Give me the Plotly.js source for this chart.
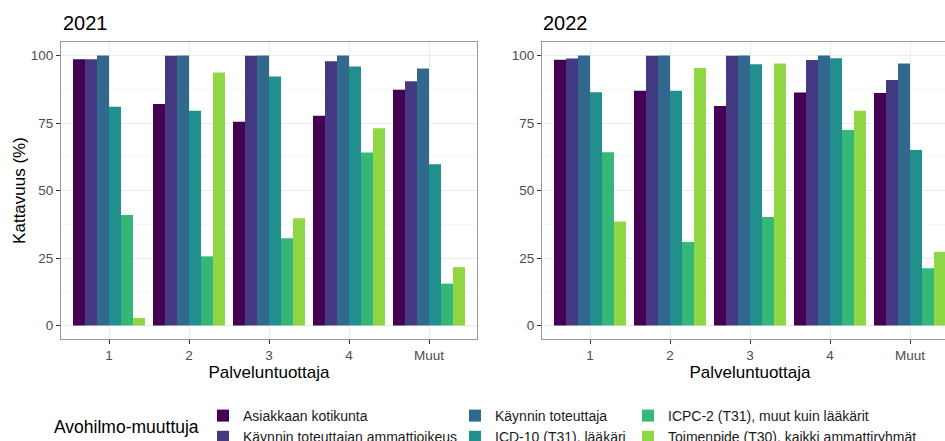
<!DOCTYPE html>
<html>
<head>
<meta charset="utf-8">
<script src="https://cdn.plot.ly/plotly-3.0.1.min.js"></script>
<style>
html, body { margin: 0; padding: 0; overflow: hidden; background: #fff; }
#chart { width: 960px; height: 450px; }
</style>
</head>
<body>
<div id="chart"></div>
<script>
// ---- Data ----
const categories = ['1', '2', '3', '4', 'Muut'];
const panelTitles = ['2021', '2022'];
const seriesNames = [
  'Asiakkaan kotikunta',
  'Käynnin toteuttajan ammattioikeus',
  'Käynnin toteuttaja',
  'ICD-10 (T31), lääkäri',
  'ICPC-2 (T31), muut kuin lääkärit',
  'Toimenpide (T30), kaikki ammattiryhmät'
];

// 2021
const kotikunta2021      = [98.6, 82.0, 75.5, 77.7, 87.3];
const ammattioikeus2021  = [98.6, 99.9, 99.9, 97.9, 90.5];
const toteuttaja2021     = [100, 100, 100, 100, 95.2];
const icd10_2021         = [81.0, 79.5, 92.2, 95.9, 59.7];
const icpc2_2021         = [40.9, 25.6, 32.3, 64.1, 15.5];
const toimenpide2021     = [2.8, 93.7, 39.7, 73.1, 21.6];

// 2022
const kotikunta2022      = [98.4, 86.9, 81.3, 86.3, 86.1];
const ammattioikeus2022  = [98.9, 99.9, 99.9, 98.3, 90.9];
const toteuttaja2022     = [100, 100, 100, 100, 97.0];
const icd10_2022         = [86.4, 86.9, 96.8, 99.0, 65.0];
const icpc2_2022         = [64.2, 30.9, 40.2, 72.4, 21.2];
const toimenpide2022     = [38.5, 95.4, 97.0, 79.5, 27.3];

const colors = ['#440154', '#443A83', '#31688E', '#21908C', '#35B779', '#8FD744'];

// ---- Layout geometry (pixels) ----
const W = 960, H = 450;
const L = 61, R = 958, T = 42, B = 339;
const pw = R - L, ph = B - T;
const px2x = p => (p - L) / pw;
const py2y = p => (B - p) / ph;

const FONT = 'Liberation Sans, Arial, Helvetica, sans-serif';

const data2021 = [kotikunta2021, ammattioikeus2021, toteuttaja2021, icd10_2021, icpc2_2021, toimenpide2021];
const data2022 = [kotikunta2022, ammattioikeus2022, toteuttaja2022, icd10_2022, icpc2_2022, toimenpide2022];
const legendIds = ['legend', 'legend', 'legend2', 'legend2', 'legend3', 'legend3'];

const traces = [];
[data2021, data2022].forEach((set, pi) => {
  set.forEach((vals, i) => {
    traces.push({
      type: 'bar',
      x: categories,
      y: vals,
      name: seriesNames[i],
      marker: { color: colors[i], line: { width: 0 } },
      xaxis: pi === 0 ? 'x' : 'x2',
      yaxis: pi === 0 ? 'y' : 'y2',
      legend: legendIds[i],
      showlegend: pi === 0,
      hoverinfo: 'x+y+name'
    });
  });
});

function xAxis(domain, anchor) {
  return {
    domain: domain, anchor: anchor,
    type: 'category', categoryorder: 'array', categoryarray: categories,
    range: [-0.6, 4.6],
    showgrid: true, gridcolor: '#ebebeb', gridwidth: 1,
    showline: true, linecolor: '#999999', linewidth: 1, mirror: true,
    ticks: 'outside', ticklen: 4, tickwidth: 1, tickcolor: '#333333',
    tickfont: { family: FONT, size: 13.5, color: '#4d4d4d' },
    title: { text: 'Palveluntuottaja', font: { family: FONT, size: 17, color: '#000' }, standoff: 2 },
    zeroline: false, fixedrange: true
  };
}
function yAxis(anchor, withTitle) {
  const ax = {
    anchor: anchor, domain: [0, 1],
    range: [-5, 105],
    tickmode: 'linear', tick0: 0, dtick: 25,
    showgrid: true, gridcolor: '#ebebeb', gridwidth: 1,
    minor: { tick0: 0, dtick: 12.5, showgrid: true, gridcolor: '#f2f2f2', gridwidth: 0.6 },
    showline: true, linecolor: '#999999', linewidth: 1, mirror: true,
    ticks: 'outside', ticklen: 4, tickwidth: 1, tickcolor: '#333333',
    tickfont: { family: FONT, size: 13.5, color: '#4d4d4d' },
    zeroline: false, fixedrange: true
  };
  if (withTitle) ax.title = { text: 'Kattavuus (%)', font: { family: FONT, size: 17, color: '#000' }, standoff: 0 };
  return ax;
}

const legendBase = {
  xanchor: 'left', yanchor: 'top',
  orientation: 'v',
  bgcolor: 'rgba(0,0,0,0)', borderwidth: 0,
  font: { family: FONT, size: 14, color: '#1a1a1a' },
  tracegroupgap: 0, traceorder: 'normal'
};
const legTop = py2y(400);

const layout = {
  width: W, height: H, autosize: false,
  margin: { l: L, r: W - R, t: T, b: H - B, pad: 0, autoexpand: false },
  paper_bgcolor: '#ffffff', plot_bgcolor: '#ffffff',
  font: { family: FONT },
  barmode: 'group', bargap: 0.1, bargroupgap: 0,
  xaxis: xAxis([0, px2x(477)], 'y'),
  yaxis: yAxis('x', true),
  xaxis2: xAxis([px2x(542), 1], 'y2'),
  yaxis2: yAxis('x2', false),
  legend: Object.assign({}, legendBase, { x: px2x(203), y: legTop }),
  legend2: Object.assign({}, legendBase, { x: px2x(455), y: legTop }),
  legend3: Object.assign({}, legendBase, { x: px2x(628), y: legTop }),
  annotations: [
    { text: panelTitles[0], xref: 'paper', yref: 'paper', x: px2x(61), y: py2y(23), xanchor: 'left', yanchor: 'middle', showarrow: false, font: { family: FONT, size: 20, color: '#000' } },
    { text: panelTitles[1], xref: 'paper', yref: 'paper', x: px2x(541), y: py2y(23), xanchor: 'left', yanchor: 'middle', showarrow: false, font: { family: FONT, size: 20, color: '#000' } },
    { text: 'Avohilmo-muuttuja', xref: 'paper', yref: 'paper', x: px2x(52), y: py2y(427), xanchor: 'left', yanchor: 'middle', showarrow: false, font: { family: FONT, size: 17.5, color: '#000' } }
  ]
};

Plotly.newPlot('chart', traces, layout, { staticPlot: true, displayModeBar: false, responsive: false });
</script>
</body>
</html>
